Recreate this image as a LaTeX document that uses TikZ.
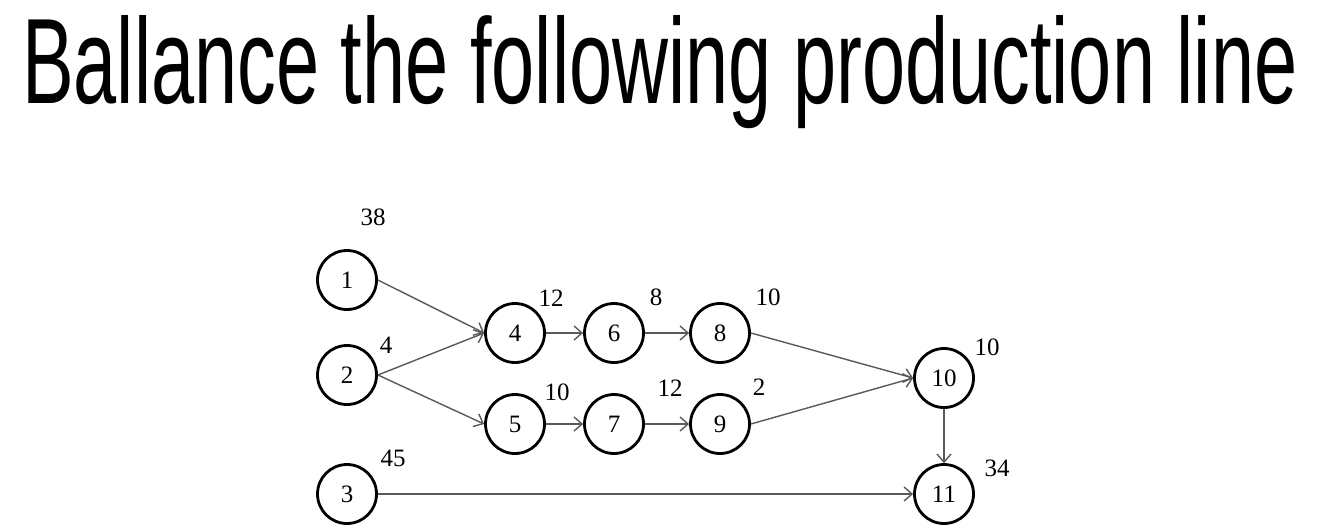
\documentclass[tikz,border=0pt]{standalone}
\usepackage{fontspec}
\setmainfont{Liberation Serif}
\newfontfamily\handfont{Liberation Sans}
\usetikzlibrary{arrows.meta}
\begin{document}
\begin{tikzpicture}[x=1pt, y=-1pt,
	task/.style={circle, draw, line width=2.8pt, minimum size=59pt, inner sep=0pt, font=\fontsize{25}{25}\selectfont},
	time/.style={inner sep=0pt, font=\fontsize{25}{25}\selectfont},
	flow/.style={-{Straight Barb[length=8pt, width=14pt]}, draw=black!65, line width=1.4pt}]
	\useasboundingbox (0,0) rectangle (1334,530);
	\node[anchor=base west, inner sep=0pt] (title) at (22,103)
		{\resizebox{1275pt}{88pt}{\handfont Ballance the following production line}};

	\foreach \n/\x/\y in {1/347/280, 2/347/375, 3/347/494, 4/515/333, 5/515/424, 6/614/333,
		7/614/424, 8/720/333, 9/720/424, 10/944/378, 11/944/494}
		\node[task] (n\n) at (\x,\y) {\n};

	\foreach \n/\x/\y/\t in {1/373/217/38, 2/386/345/4, 3/393/458/45, 4/551/298/12, 5/557/392/10,
		6/656/297/8, 7/670/388/12, 8/768/297/10, 9/759/387/2, 10/987/347/10, 11/997/468/34}
		\node[time] (t\n) at (\x,\y) {\t};

	\foreach \a/\b in {1/4, 2/4, 2/5, 4/6, 6/8, 5/7, 7/9, 8/10, 9/10, 3/11}
		\draw[flow] (n\a.east) -- (n\b.west);
	\draw[flow] (n10.south) -- (n11.north);
\end{tikzpicture}
\end{document}
